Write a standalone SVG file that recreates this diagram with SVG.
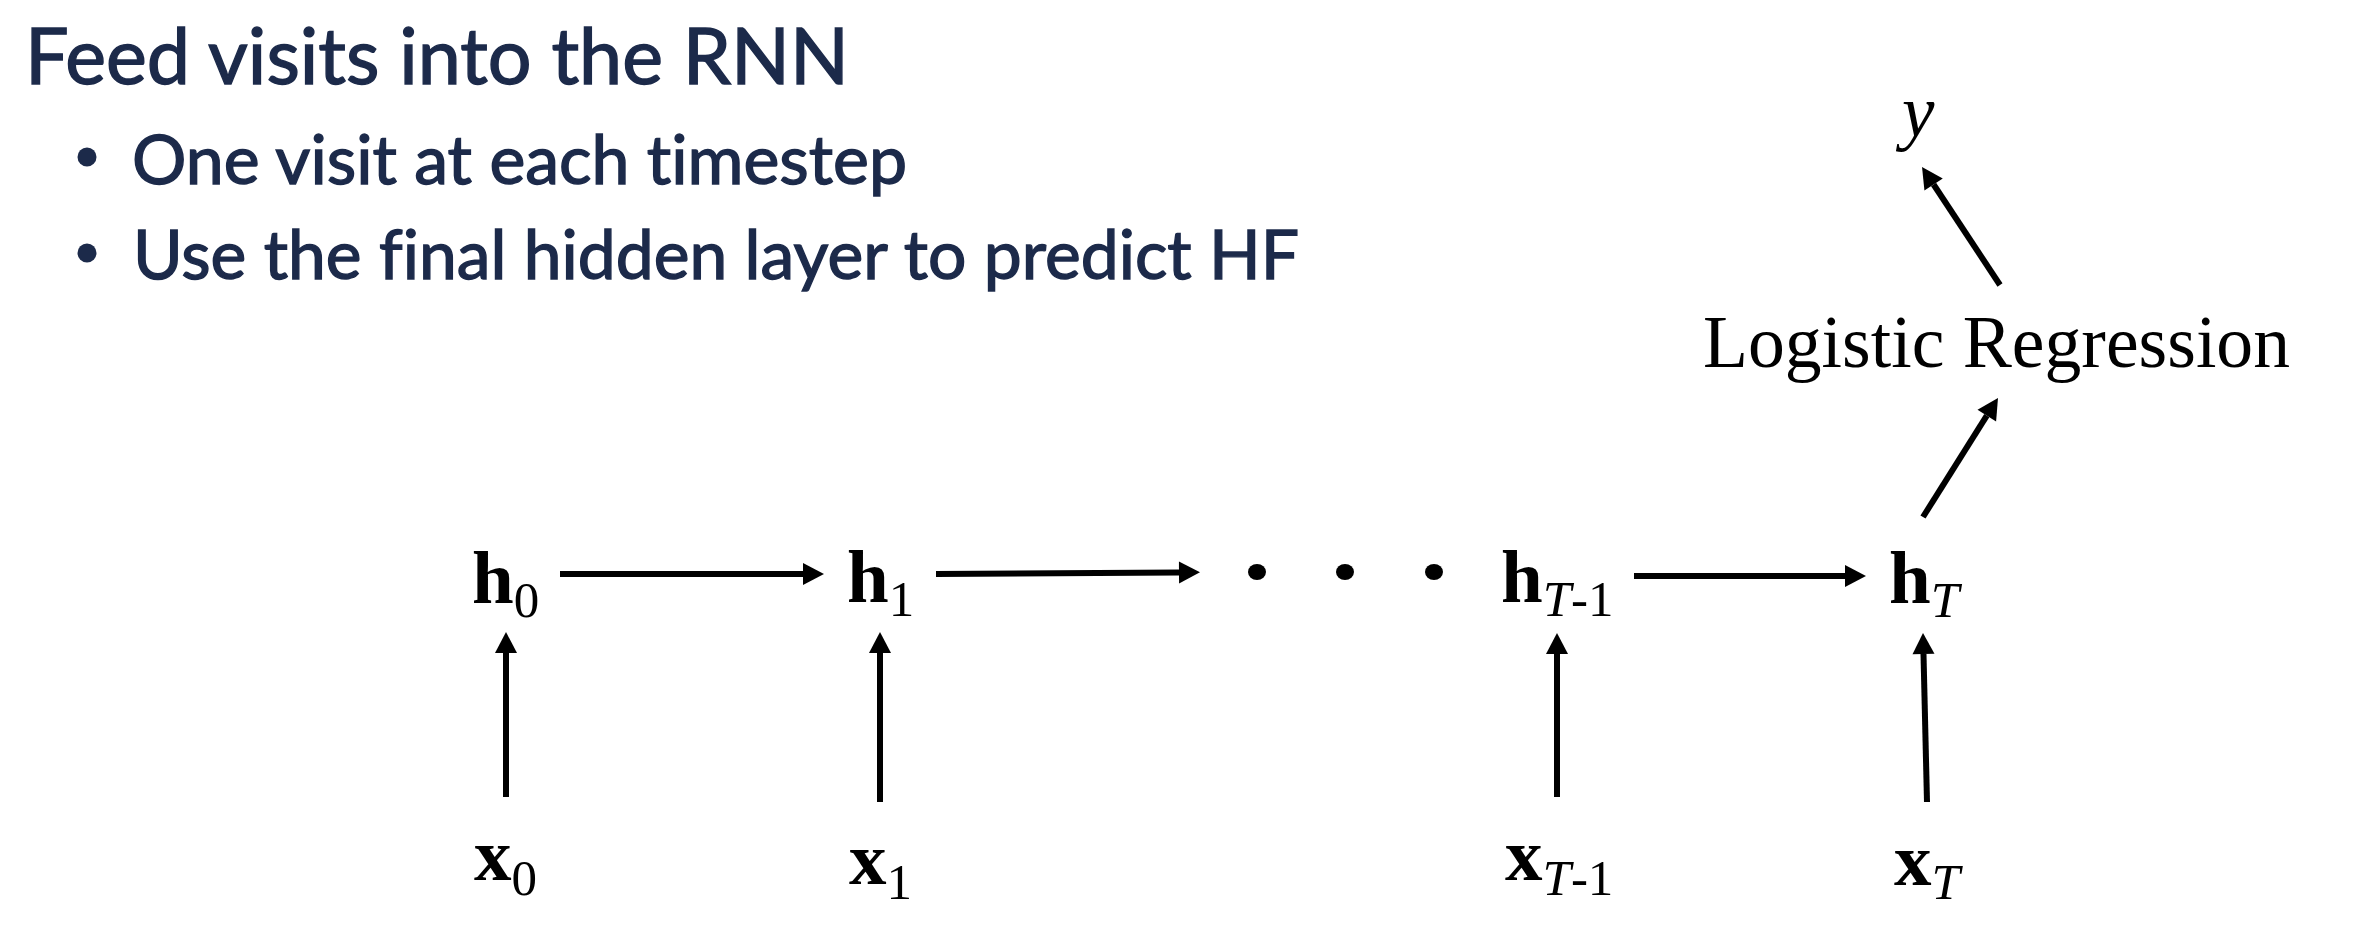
<svg xmlns="http://www.w3.org/2000/svg" width="2364" height="942" viewBox="0 0 2364 942">
<style>
.head{font-family:Lato,"Open Sans","Liberation Sans",sans-serif;fill:#1c2a4a;stroke:#1c2a4a;stroke-width:1.4;font-variant-ligatures:none}
.math{font-family:"Liberation Serif","Times New Roman",serif;fill:#000}
.bold{font-weight:bold}
.it{font-style:italic}
.sub{font-size:51px;font-weight:normal}
.conn{stroke:#000;stroke-width:6;fill:none;marker-end:url(#ah)}
</style>
<defs>
<marker id="ah" markerUnits="userSpaceOnUse" markerWidth="24" markerHeight="24" refX="0" refY="11" orient="auto" overflow="visible">
<path d="M0,0 L21,11 L0,22 Z" fill="#000"/>
</marker>
</defs>
<rect width="2364" height="942" fill="#fff"/>
<g id="heading">
<text class="head" x="25" y="84" font-size="78" textLength="824" lengthAdjust="spacingAndGlyphs">Feed visits into the RNN</text>
<circle cx="87" cy="157" r="9.5" fill="#1c2a4a"/>
<text class="head" x="132" y="184" font-size="68" textLength="775" lengthAdjust="spacingAndGlyphs">One visit at each timestep</text>
<circle cx="87" cy="253" r="9.5" fill="#1c2a4a"/>
<text class="head" x="133" y="279" font-size="68" textLength="1166" lengthAdjust="spacingAndGlyphs">Use the final hidden layer to predict HF</text>
</g>
<g id="connectors">
<line class="conn" x1="560" y1="574" x2="803" y2="574"/>
<line class="conn" x1="936" y1="574" x2="1179" y2="572.5"/>
<line class="conn" x1="1634" y1="576" x2="1845" y2="576"/>
<line class="conn" x1="506" y1="797" x2="506" y2="653"/>
<line class="conn" x1="880" y1="802" x2="880" y2="653"/>
<line class="conn" x1="1557" y1="797" x2="1557" y2="654"/>
<line class="conn" x1="1927" y1="802" x2="1923.5" y2="654"/>
<line class="conn" x1="1923" y1="517" x2="1986.8" y2="415.7"/>
<line class="conn" x1="2000" y1="285" x2="1933.6" y2="184.5"/>
</g>
<g id="dots">
<ellipse cx="1257" cy="572" rx="9" ry="8"/>
<ellipse cx="1345" cy="572" rx="9" ry="8"/>
<ellipse cx="1434" cy="572" rx="9" ry="8"/>
</g>
<g id="h0"><text class="math bold" x="472" y="603" font-size="75">h<tspan class="sub" dy="14">0</tspan></text></g>
<g id="h1"><text class="math bold" x="847" y="602" font-size="75">h<tspan class="sub" dy="14">1</tspan></text></g>
<g id="hT1"><text class="math bold" x="1501" y="602" font-size="75">h<tspan class="sub it" dy="14">T</tspan><tspan class="sub">-1</tspan></text></g>
<g id="hT"><text class="math bold" x="1889" y="603" font-size="75">h<tspan class="sub it" dy="14">T</tspan></text></g>
<g id="x0"><text class="math bold" x="474" y="880" font-size="75">x<tspan class="sub" dy="15">0</tspan></text></g>
<g id="x1"><text class="math bold" x="849" y="884" font-size="75">x<tspan class="sub" dy="15">1</tspan></text></g>
<g id="xT1"><text class="math bold" x="1505" y="880" font-size="75">x<tspan class="sub it" dy="15">T</tspan><tspan class="sub">-1</tspan></text></g>
<g id="xT"><text class="math bold" x="1894" y="885" font-size="75">x<tspan class="sub it" dy="14">T</tspan></text></g>
<g id="lr"><text class="math" x="1703" y="367" font-size="74" textLength="587" lengthAdjust="spacingAndGlyphs">Logistic Regression</text></g>
<g id="y"><text class="math it" x="1902" y="136" font-size="73">y</text></g>
</svg>
